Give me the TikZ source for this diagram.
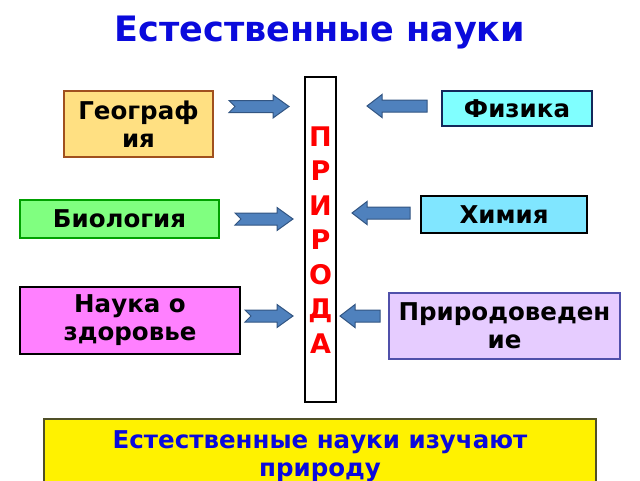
\documentclass[tikz,border=0pt]{standalone}
\usepackage{fontspec}
\setmainfont{DejaVu Sans}
\begin{document}
\begin{tikzpicture}[x=1pt,y=-1pt,
  box/.style={draw, line width=2pt, align=center, font=\bfseries\fontsize{24.5}{28}\selectfont, inner sep=0pt},
  arr/.style={fill=arrfill, draw=arrline, line width=1pt, line join=miter}]
\definecolor{arrfill}{RGB}{79,129,189}
\definecolor{arrline}{RGB}{50,85,130}
\definecolor{geofill}{RGB}{255,224,130}
\definecolor{geoline}{RGB}{160,80,30}
\definecolor{fizfill}{RGB}{128,255,255}
\definecolor{fizline}{RGB}{20,40,90}
\definecolor{biofill}{RGB}{128,255,128}
\definecolor{bioline}{RGB}{0,160,0}
\definecolor{himfill}{RGB}{128,230,255}
\definecolor{naufill}{RGB}{255,128,255}
\definecolor{prifill}{RGB}{230,204,255}
\definecolor{priline}{RGB}{80,80,170}
\definecolor{titleblue}{RGB}{10,10,220}
\definecolor{botline}{RGB}{80,80,40}
\useasboundingbox (0,0) rectangle (640,480);
\clip (0,0) rectangle (640,480);
\newcommand\rarrow[3]{%
  \filldraw[arr] ({#1},{#3-6}) -- ({#2-16},{#3-6}) -- ({#2-16},{#3-11.5}) -- ({#2},{#3}) -- ({#2-16},{#3+11.5}) -- ({#2-16},{#3+6}) -- ({#1},{#3+6}) -- ({#1+6},{#3}) -- cycle;}
\newcommand\larrow[3]{%
  \filldraw[arr] ({#2},{#3-6}) -- ({#1+15},{#3-6}) -- ({#1+15},{#3-11.5}) -- ({#1},{#3}) -- ({#1+15},{#3+11.5}) -- ({#1+15},{#3+6}) -- ({#2},{#3+6}) -- cycle;}

\node[font=\bfseries\fontsize{35}{40}\selectfont, text=titleblue] (title) at (320,33) {Естественные науки};

\node[draw, line width=2pt, fill=white, minimum width=31pt, minimum height=325pt, inner sep=0pt] (priroda) at (320.5,239.5) {};
\node[text=red, font=\bfseries\fontsize{27}{34.5}\selectfont, align=center, inner sep=0pt] (word) at (320.5,240) {П\\Р\\И\\Р\\О\\Д\\А};

\node[box, draw=geoline, line width=2.5pt, fill=geofill, minimum width=149pt, minimum height=66pt] (geo) at (138.5,124) {Географ\\ия};
\node[box, draw=fizline, fill=fizfill, minimum width=150pt, minimum height=35pt] (fiz) at (517,108.5) {Физика};
\node[box, draw=bioline, fill=biofill, minimum width=199pt, minimum height=38pt] (bio) at (119.5,219) {Биология};
\node[box, draw=black, fill=himfill, minimum width=166pt, minimum height=37pt] (him) at (504,214.5) {Химия};
\node[box, draw=black, fill=naufill, minimum width=220pt, minimum height=67pt] (nau) at (130,320.5) {Наука о\\здоровье};
\node[box, draw=priline, fill=prifill, minimum width=231pt, minimum height=66pt] (pri) at (504.5,326) {Природоведен\\ие};

\rarrow{229}{289}{106.5}
\larrow{367}{427}{106}
\rarrow{235}{293}{219}
\larrow{352}{410}{213}
\rarrow{245}{293}{316}
\larrow{340}{380}{316}

\node[draw=botline, line width=2pt, fill=yellow, minimum width=552pt, minimum height=80pt, inner sep=0pt] (bot) at (320,459) {};
\node[text=titleblue, font=\bfseries\fontsize{24.5}{28}\selectfont, align=center, anchor=north, inner sep=0pt] (bottext) at (320,430) {Естественные науки изучают\\природу};
\end{tikzpicture}
\end{document}
